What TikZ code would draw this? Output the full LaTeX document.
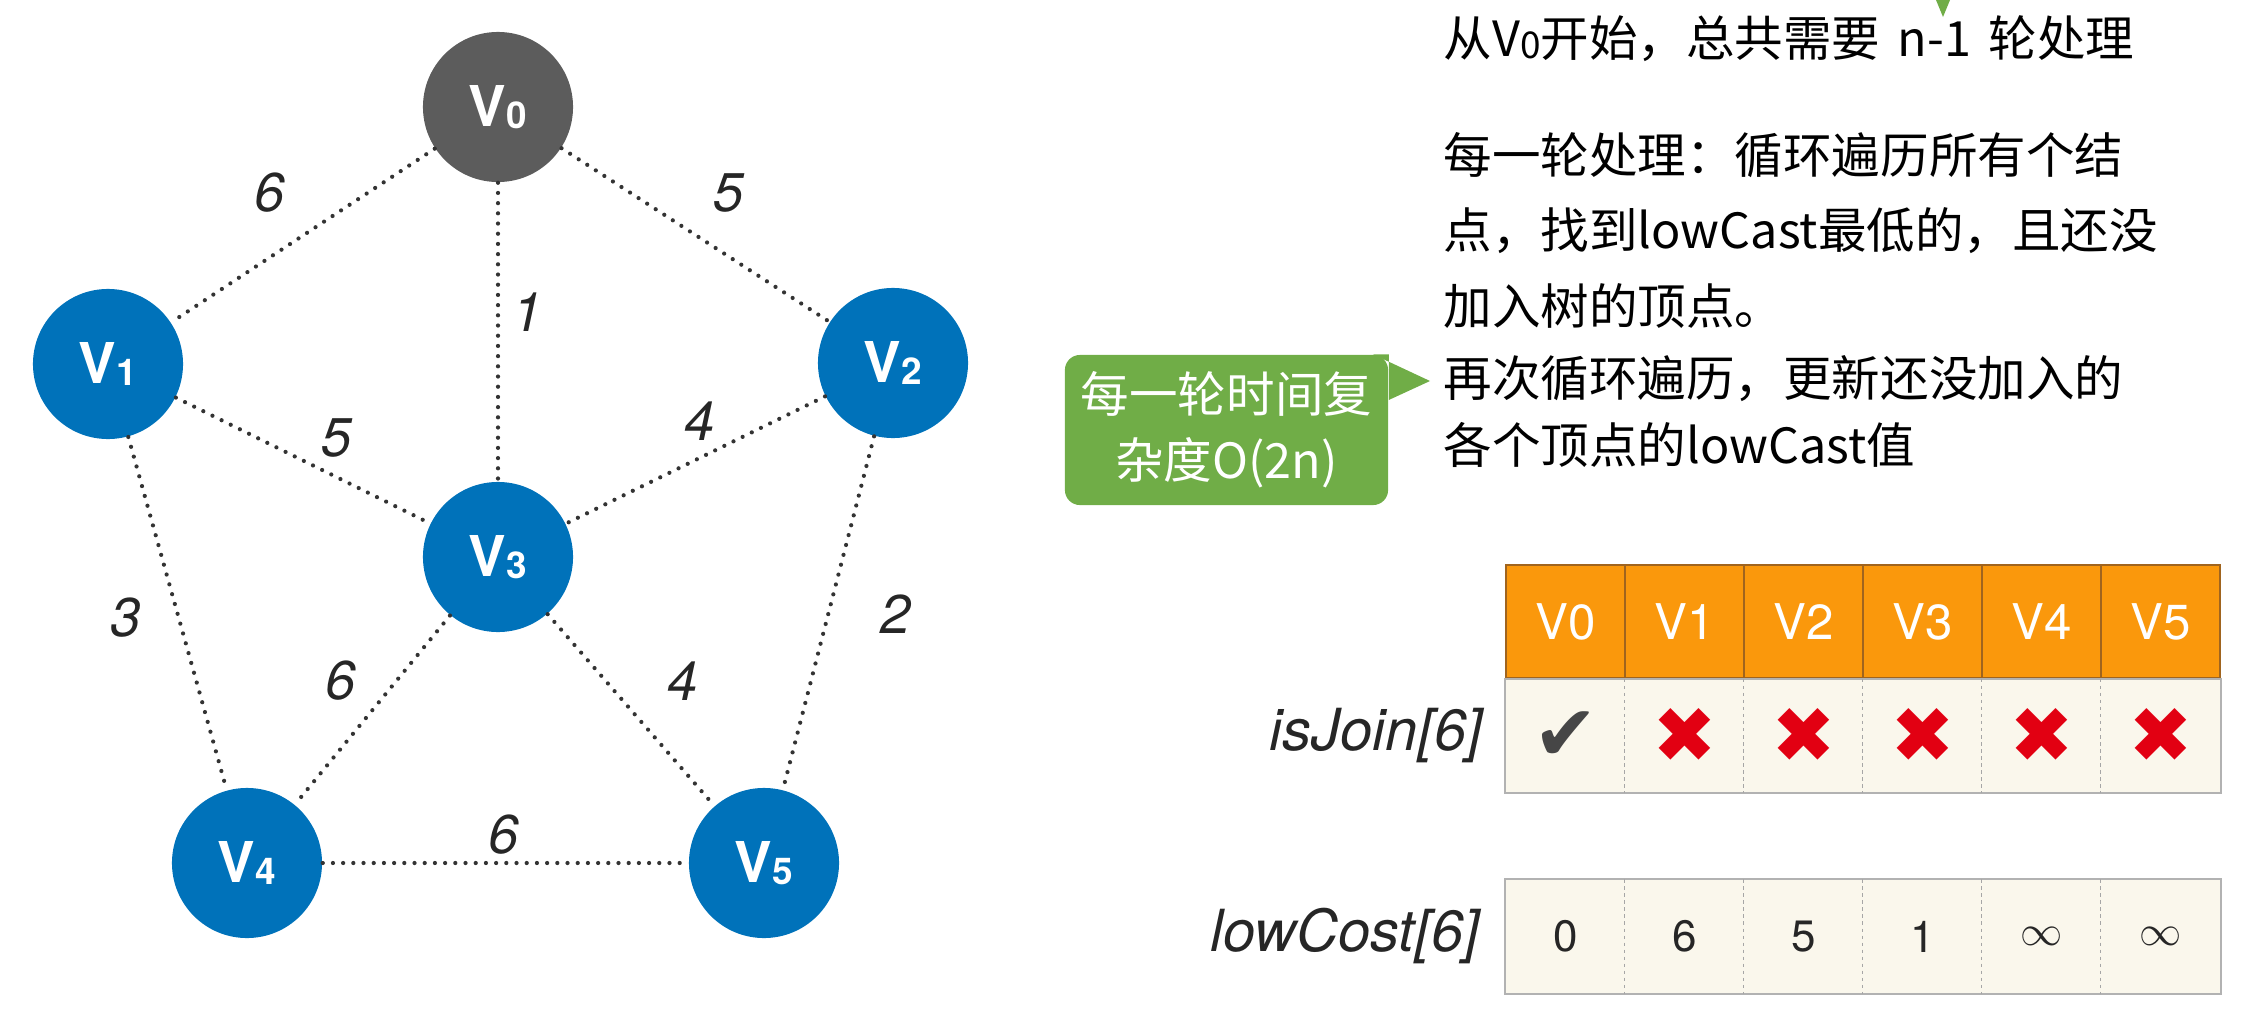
\documentclass[tikz,border=0pt]{standalone}
\usepackage{fontspec}
\setmainfont{TeX Gyre Heros}
\newfontfamily\cjk{Noto Sans CJK SC}
\newfontfamily\symfont{DejaVu Sans}
\usetikzlibrary{positioning}

\definecolor{nodeblue}{RGB}{0,114,186}
\definecolor{nodegray}{RGB}{92,92,92}
\definecolor{tipgreen}{RGB}{112,173,71}
\definecolor{headorange}{RGB}{250,152,12}
\definecolor{headline}{RGB}{160,100,30}
\definecolor{cellcream}{RGB}{250,247,236}
\definecolor{crossred}{RGB}{226,0,18}
\definecolor{markgray}{RGB}{70,70,70}

\newcommand{\low}[1]{\lower0.6pt\hbox{\fontsize{10.5}{10.5}\selectfont#1}}
\newcommand{\yes}{{\symfont\color{markgray}✔}}
\newcommand{\no}{{\symfont\color{crossred}✖}}

\tikzset{
  vertex/.style={circle, fill=nodeblue, minimum size=1.5cm, inner sep=0pt,
    text=white, font=\fontsize{16}{16}\selectfont\bfseries},
  edge/.style={line width=1.2pt, line cap=round, dash pattern=on 0pt off 2.9pt, black!80},
  weight/.style={font=\fontsize{15.5}{15.5}\selectfont\itshape, text=black!85},
  note/.style={anchor=west, inner sep=0pt, font=\cjk\fontsize{13.8}{13.8}\selectfont},
  headcell/.style={rectangle, fill=headorange, draw=headline, line width=0.4pt,
    minimum width=1.19cm, minimum height=1.13cm, inner sep=0pt,
    text=white, font=\fontsize{14}{14}\selectfont},
  joincell/.style={rectangle, fill=cellcream, minimum width=1.19cm, minimum height=1.13cm,
    inner sep=0pt, font=\fontsize{22}{22}\selectfont},
  costcell/.style={joincell, font=\fontsize{12.5}{12.5}\selectfont, text=black!85},
  gridline/.style={draw=black!30, line width=0.6pt},
  divider/.style={draw=black!35, line width=0.4pt, dash pattern=on 1pt off 1pt},
  rowlabel/.style={inner sep=0pt, font=\fontsize{16.5}{16.5}\selectfont\itshape, text=black!85}
}

\begin{document}
\begin{tikzpicture}[x=0.01cm, y=-0.01cm]
\useasboundingbox (0,0) rectangle (2266,1015);

\node[vertex, fill=nodegray] (v0) at (498,107) {V\low{0}};
\node[vertex] (v1) at (108,364) {V\low{1}};
\node[vertex] (v2) at (893,363) {V\low{2}};
\node[vertex] (v3) at (498,557) {V\low{3}};
\node[vertex] (v4) at (247,863) {V\low{4}};
\node[vertex] (v5) at (764,863) {V\low{5}};

\foreach \a/\b in {0/1,0/2,0/3,1/3,2/3,1/4,2/5,3/4,3/5,4/5}
  \draw[edge] (v\a) -- (v\b);

\foreach \n/\x/\y/\w in {01/270/193/6, 02/729/193/5, 03/528/312/1, 13/337/438/5, 23/700/421/4,
    14/126/618/3, 25/896/614/2, 34/341/681/6, 35/683/681/4, 45/504/835/6}
  \node[weight] (w\n) at (\x,\y) {\w};

\fill[tipgreen] (1936,0) -- (1950,0) -- (1943,17) -- cycle;

\node[note] (t1) at (1443,39) {从V\low{0}开始，总共需要\hspace{5pt}n-1\hspace{5pt}轮处理};
\node[note] (t2) at (1443,155) {每一轮处理：循环遍历所有个结};
\node[note] (t3) at (1443,231) {点，找到lowCast最低的，且还没};
\node[note] (t4) at (1443,306) {加入树的顶点。};
\node[note] (t5) at (1443,379) {再次循环遍历，更新还没加入的};
\node[note] (t6) at (1443,445) {各个顶点的lowCast值};

\node[rectangle, rounded corners=0.15cm, fill=tipgreen, minimum width=3.23cm, minimum height=1.5cm,
  text=white, align=center, font=\cjk\fontsize{13.8}{18.8}\selectfont] (cost) at (1226.5,430)
  {每一轮时间复\\杂度O(2n)};
\coordinate (costtip) at (1430,381);
\fill[tipgreen] ([xshift=-0.16cm]cost.north east) -- (costtip) -- ([yshift=0.3cm]cost.east)
  -- (cost.north east) -- cycle;

\foreach \lbl [count=\i from 0] in {V0,V1,V2,V3,V4,V5}
  \node[headcell] (h\i) at ({1565.5+119*\i},621.5) {\lbl};
\foreach \m [count=\i from 0] in {\yes,\no,\no,\no,\no,\no}
  \node[joincell, below=0pt of h\i] (j\i) {\m};
\foreach \m [count=\i from 0] in {0,6,5,1,$\infty$,$\infty$}
  \node[costcell, below=0.86cm of j\i] (c\i) {\m};

\draw[gridline] (j0.north west) rectangle (j5.south east);
\draw[gridline] (c0.north west) rectangle (c5.south east);
\foreach \i in {1,...,5} {
  \draw[divider] (j\i.north west) -- (j\i.south west);
  \draw[divider] (c\i.north west) -- (c\i.south west);
}

\node[rowlabel, left=0.22cm of j0] (isjoin) {isJoin[6]};
\node[rowlabel, left=0.25cm of c0] (lowcost) {lowCost[6]};
\end{tikzpicture}
\end{document}
